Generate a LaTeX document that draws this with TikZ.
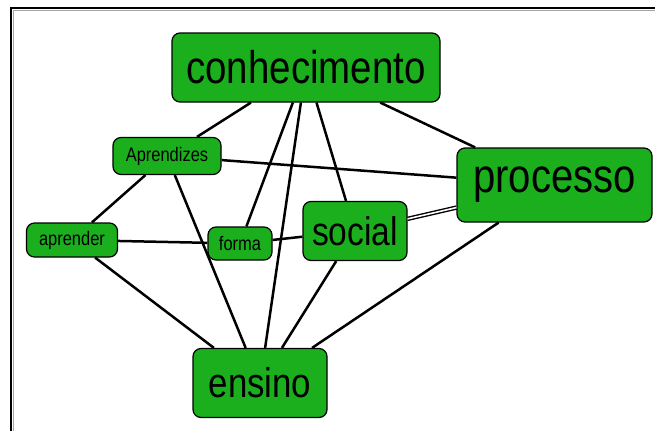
\documentclass[tikz,border=0pt]{standalone}
\usepackage{fontspec}
\setmainfont{Liberation Sans}[FakeStretch=0.84]
\definecolor{nodegreen}{RGB}{27,175,30}
\begin{document}
\begin{tikzpicture}[x=1pt,y=-1pt,
  box/.style={draw=black, line width=1.2pt, fill=nodegreen, rounded corners=8pt,
    inner sep=0pt, text=black},
  big/.style={box, font=\fontsize{#1}{#1}\selectfont},
  small/.style={box, font=\fontsize{19.6}{19.6}\selectfont},
  link/.style={line width=2.5pt, black},
  frame/.style={line width=2pt, black}]
\useasboundingbox (0,0) rectangle (655,431);
\draw[frame] (11,431) -- (11,8) -- (655,8);
\draw[gray!70, line width=1pt] (13.5,431) -- (13.5,10.5) -- (655,10.5);

\node[big=45.8, minimum width=268pt, minimum height=69pt] (con) at (306,67.5) {conhecimento};
\node[big=47.7, minimum width=195pt, minimum height=74pt] (pro) at (554.5,185) {processo};
\node[big=41.5, minimum width=134pt, minimum height=69pt] (ens) at (260,383) {ensino};
\node[big=40, minimum width=104pt, minimum height=59pt] (soc) at (355,231) {social};
\node[small, minimum width=108pt, minimum height=37pt] (apz) at (167,156) {Aprendizes};
\node[small, minimum width=91pt, minimum height=34pt] (apr) at (72,240) {aprender};
\node[small, minimum width=64pt, minimum height=33pt] (for) at (240,243.5) {forma};

\draw[link] (con) -- (apz);
\draw[link] (con) -- (for);
\draw[link] (con) -- (ens);
\draw[link] (con) -- (soc);
\draw[link] (con) -- (pro);
\draw[link] (apz) -- (pro);
\draw[link] (apz) -- (apr);
\draw[link] (apz) -- (ens);
\draw[link] (apr) -- (for);
\draw[link] (apr) -- (ens);
\draw[link] (for) -- (soc);
\draw[black, line width=1.4pt, double=white, double distance=1.6pt] (soc) -- (pro);
\draw[link] (soc) -- (ens);
\draw[link] (pro) -- (ens);
\end{tikzpicture}
\end{document}
